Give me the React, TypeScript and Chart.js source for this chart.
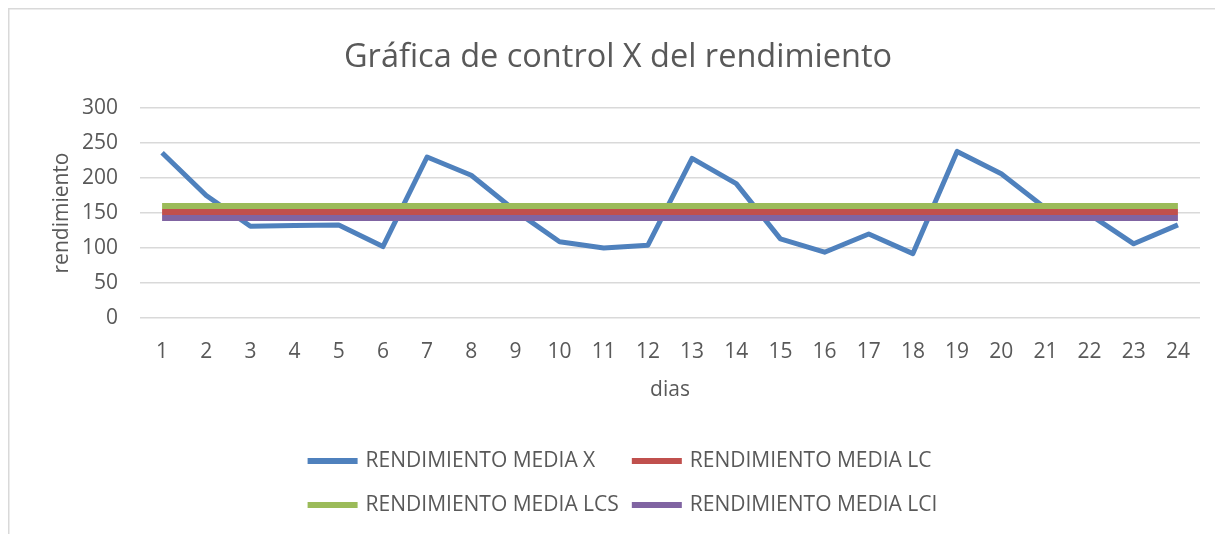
import { useEffect, useRef } from "react";
import { Chart, registerables } from "chart.js";

Chart.register(...registerables);

const dias = ["1", "2", "3", "4", "5", "6", "7", "8", "9", "10", "11", "12", "13", "14", "15", "16", "17", "18", "19", "20", "21", "22", "23", "24"];

const rendimientoMediaX = [236, 175, 131, 132, 133, 102, 230, 204, 153, 109, 100, 104, 228, 192, 113, 94, 120, 92, 238, 206, 157, 148, 106, 133];
const rendimientoMediaLC = [151.3, 151.3, 151.3, 151.3, 151.3, 151.3, 151.3, 151.3, 151.3, 151.3, 151.3, 151.3, 151.3, 151.3, 151.3, 151.3, 151.3, 151.3, 151.3, 151.3, 151.3, 151.3, 151.3, 151.3];
const rendimientoMediaLCS = [160, 160, 160, 160, 160, 160, 160, 160, 160, 160, 160, 160, 160, 160, 160, 160, 160, 160, 160, 160, 160, 160, 160, 160];
const rendimientoMediaLCI = [143, 143, 143, 143, 143, 143, 143, 143, 143, 143, 143, 143, 143, 143, 143, 143, 143, 143, 143, 143, 143, 143, 143, 143];

const seriesNames = ["RENDIMIENTO MEDIA X", "RENDIMIENTO MEDIA LC", "RENDIMIENTO MEDIA LCS", "RENDIMIENTO MEDIA LCI"];
const seriesColors = ["#4f81bd", "#c0504d", "#9bbb59", "#8064a2"];

const yMin = 0;
const yMax = 300;
const yStep = 50;

const titleText = "Gráfica de control X del rendimiento";
const xTitle = "dias";
const yTitle = "rendimiento";

const FONT = "'Open Sans', sans-serif";
const TEXT = "#595959";
const GRID = "#d9d9d9";

const framePlugin = {
  id: "frame",
  beforeDraw(chart: any) {
    const { ctx, width, height } = chart;
    ctx.save();
    ctx.fillStyle = "#ffffff";
    ctx.fillRect(0, 0, width, height);
    ctx.strokeStyle = GRID;
    ctx.lineWidth = 1.5;
    ctx.beginPath();
    ctx.moveTo(0.75, height);
    ctx.lineTo(0.75, 0.75);
    ctx.lineTo(width, 0.75);
    ctx.stroke();
    ctx.restore();
  },
};

const gridLegendPlugin = {
  id: "gridLegend",
  afterDraw(chart: any) {
    const { ctx } = chart;
    const ds = chart.data.datasets;
    ctx.save();
    ctx.font = `21px ${FONT}`;
    const sample = 50;
    const gap = 8;
    const colGap = 13;
    const widths = ds.map((d: any) => sample + gap + ctx.measureText(d.label).width);
    const col1 = Math.max(widths[0], widths[2]);
    const col2 = Math.max(widths[1], widths[3]);
    const total = col1 + colGap + col2;
    const x0 = chart.width / 2 + 4.5 - total / 2;
    const rows = [453, 497];
    ds.forEach((d: any, i: number) => {
      const x = i % 2 === 0 ? x0 : x0 + col1 + colGap;
      const y = rows[Math.floor(i / 2)];
      ctx.strokeStyle = d.borderColor;
      ctx.lineWidth = 6;
      ctx.lineCap = "butt";
      ctx.beginPath();
      ctx.moveTo(x, y);
      ctx.lineTo(x + sample, y);
      ctx.stroke();
      ctx.fillStyle = TEXT;
      ctx.textBaseline = "middle";
      ctx.textAlign = "left";
      ctx.fillText(d.label, x + sample + gap, y);
    });
    ctx.restore();
  },
};

export default function App() {
  const ref = useRef<HTMLCanvasElement | null>(null);

  useEffect(() => {
    document.documentElement.style.overflow = "hidden";
    document.body.style.overflow = "hidden";
    const canvas = ref.current;
    if (!canvas) return;
    const seriesData = [rendimientoMediaX, rendimientoMediaLC, rendimientoMediaLCS, rendimientoMediaLCI];
    const chart = new Chart(canvas, {
      type: "line",
      data: {
        labels: dias,
        datasets: seriesData.map((data, i) => ({
          label: seriesNames[i],
          data,
          borderColor: seriesColors[i],
          backgroundColor: seriesColors[i],
          borderWidth: i === 0 ? 5 : 6,
          pointRadius: 0,
          pointHoverRadius: 0,
          tension: 0,
          fill: false,
          borderJoinStyle: "round" as const,
          borderCapStyle: "butt" as const,
          order: i === 0 ? 1 : 0,
        })),
      },
      options: {
        responsive: false,
        animation: false,
        layout: { padding: { top: 0, left: 0, right: 0, bottom: 131 } },
        font: { family: FONT },
        plugins: {
          legend: { display: false },
          tooltip: { enabled: false },
          title: {
            display: true,
            text: titleText,
            color: TEXT,
            font: { family: FONT, size: 32.5, weight: "normal" as const, lineHeight: 1.2 },
            padding: { top: 30, bottom: 31 },
          },
        },
        scales: {
          x: {
            type: "category",
            offset: true,
            grid: { display: false, drawTicks: false },
            border: { display: false },
            ticks: { color: TEXT, font: { family: FONT, size: 21 }, padding: 21, maxRotation: 0, autoSkip: false },
            title: { display: true, text: xTitle, color: TEXT, font: { family: FONT, size: 21 }, padding: { top: 0, bottom: 0 } },
            afterFit: (s: any) => {
              s.height = 85;
            },
          },
          y: {
            min: yMin,
            max: yMax,
            grid: { color: GRID, lineWidth: 1.5, drawTicks: false },
            border: { display: false },
            ticks: { stepSize: yStep, color: TEXT, font: { family: FONT, size: 21 }, padding: 22 },
            title: { display: true, text: yTitle, color: TEXT, font: { family: FONT, size: 21 }, padding: { top: 41, bottom: 0 } },
            afterFit: (s: any) => {
              s.width = 132;
            },
          },
          yRight: {
            type: "linear",
            position: "right",
            display: true,
            min: yMin,
            max: yMax,
            grid: { display: false, drawTicks: false },
            border: { display: false },
            ticks: { display: false },
            afterFit: (s: any) => {
              s.width = 28;
            },
          },
        },
      },
      plugins: [framePlugin, gridLegendPlugin],
    });
    return () => chart.destroy();
  }, []);

  return (
    <div style={{ width: 1220, height: 526 }}>
      <canvas ref={ref} width={1220} height={526} style={{ display: "block" }} />
    </div>
  );
}
